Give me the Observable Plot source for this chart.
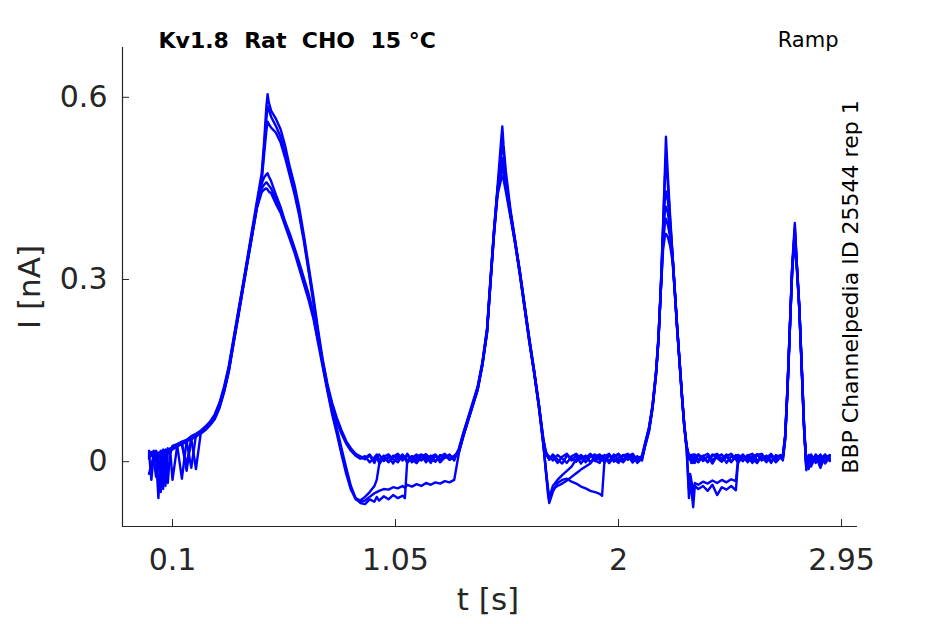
<!DOCTYPE html>
<html>
<head>
<meta charset="utf-8">
<script src="https://cdn.jsdelivr.net/npm/d3@7"></script>
<script src="https://cdn.jsdelivr.net/npm/@observablehq/plot@0.6"></script>
<style>
  html, body { margin: 0; padding: 0; background: #ffffff; }
  svg text { white-space: pre; }
</style>
</head>
<body>
<div id="chart"></div>
<script>
// ---- sampling times (s) ----
const time = [
  0.00,0.01,0.02,0.03,0.04,0.05,0.06,0.07,0.08,0.09,0.10,0.12,0.14,0.16,0.18,0.20,0.22,0.24,0.26,0.28,0.30,
  0.32,0.34,0.36,0.38,0.40,0.42,0.44,0.46,0.48,0.49,0.50,0.505,0.51,0.52,
  0.54,0.56,0.58,0.60,0.62,0.64,0.66,0.68,0.70,0.72,0.74,0.76,0.78,0.80,0.82,0.84,0.86,0.88,0.90,
  0.92,0.94,0.96,0.97,0.98,1.00,1.02,1.04,1.06,1.08,1.09,1.10,1.12,1.14,1.16,1.18,1.20,1.22,1.24,1.26,1.28,1.30,
  1.32,1.34,1.36,1.38,1.40,1.42,1.44,1.455,1.47,1.485,1.50,1.505,1.51,1.52,1.54,1.56,1.58,1.60,1.62,1.64,1.66,1.68,1.69,1.70,1.705,
  1.72,1.74,1.76,1.78,1.80,1.82,1.84,1.86,1.88,1.90,1.92,1.93,1.94,1.96,1.98,2.00,2.02,2.04,2.06,2.08,2.10,
  2.115,2.13,2.145,2.16,2.17,2.18,2.19,2.197,2.202,2.21,2.22,2.23,2.24,2.25,2.26,2.27,2.28,2.29,2.30,
  2.305,2.31,2.318,2.325,2.34,2.36,2.38,2.40,2.42,2.44,2.46,2.48,2.50,2.51,2.53,2.55,2.57,2.59,2.61,2.63,2.65,2.67,2.69,
  2.70,2.71,2.72,2.73,2.74,2.751,2.76,2.77,2.78,2.79,2.80,
  2.81,2.82,2.84,2.86,2.88,2.90
];

// ---- current traces (nA), one per sweep ----
const sweepA = [
  0.018,0.010,0.016,0.006,-0.060,0.014,0.020,0.012,0.022,0.016,0.026,0.029,0.033,0.036,0.042,0.046,0.051,0.058,0.066,0.078,0.097,
  0.124,0.158,0.203,0.248,0.292,0.338,0.384,0.430,0.475,0.525,0.585,0.605,0.592,0.578,
  0.565,0.548,0.520,0.485,0.455,0.418,0.372,0.322,0.272,0.218,0.168,0.128,0.097,0.072,0.052,0.034,0.022,0.013,0.009,
  0.004,0.010,-0.002,0.007,0.012,0.001,0.008,-0.003,0.011,0.005,0.009,-0.001,0.006,0.012,0.002,0.009,-0.002,0.010,0.004,0.011,0.003,0.008,
  0.020,0.047,0.072,0.097,0.122,0.162,0.218,0.302,0.383,0.455,0.530,0.552,0.522,0.478,0.414,0.364,0.313,0.258,0.203,0.152,0.097,0.037,0.017,0.008,0.005,
  0.009,-0.002,0.008,0.013,0.002,0.010,-0.003,0.007,0.012,0.001,0.009,0.004,0.011,-0.002,0.008,0.013,0.003,0.010,-0.001,0.007,0.008,
  0.032,0.055,0.092,0.148,0.203,0.288,0.392,0.472,0.535,0.472,0.402,0.342,0.282,0.222,0.167,0.112,0.062,0.027,0.008,
  0.003,0.011,-0.002,0.008,0.012,0.001,0.009,-0.003,0.010,0.005,0.012,0.000,0.008,0.011,0.002,0.009,-0.002,0.012,0.004,0.010,0.001,0.008,0.011,
  0.008,0.042,0.124,0.223,0.324,0.393,0.324,0.258,0.162,0.062,-0.006,
  0.010,-0.004,0.012,0.002,0.011,0.005
];
const sweepB = [
  0.008,0.015,0.004,0.012,0.010,0.018,-0.045,0.016,0.020,0.014,0.024,0.027,-0.028,0.034,0.039,0.043,0.048,0.055,0.063,0.074,0.093,
  0.119,0.153,0.198,0.243,0.288,0.333,0.378,0.424,0.468,0.515,0.565,0.585,0.580,0.568,
  0.553,0.535,0.508,0.476,0.446,0.410,0.366,0.316,0.266,0.212,0.162,0.122,0.093,0.068,0.048,0.031,0.019,0.011,0.006,
  0.009,-0.001,0.007,0.012,0.003,0.010,0.000,0.008,0.013,0.002,0.006,0.011,-0.001,0.008,0.012,0.003,0.010,0.001,0.009,0.013,0.004,0.010,
  0.016,0.043,0.068,0.093,0.118,0.158,0.212,0.298,0.378,0.448,0.508,0.530,0.508,0.468,0.408,0.358,0.308,0.253,0.198,0.148,0.093,0.033,0.014,0.006,0.009,
  0.002,0.011,0.005,-0.002,0.009,0.013,0.004,0.010,-0.001,0.008,0.012,0.002,0.009,0.013,0.000,0.007,0.011,0.003,0.010,-0.002,0.006,
  0.028,0.050,0.088,0.143,0.198,0.283,0.388,0.462,0.500,0.458,0.398,0.338,0.278,0.218,0.163,0.108,0.058,0.023,0.005,
  0.010,0.002,0.012,0.005,-0.001,0.009,0.013,0.003,0.008,0.012,-0.002,0.009,0.004,0.011,0.001,0.010,0.013,0.002,0.008,-0.001,0.011,0.005,0.009,
  0.004,0.038,0.119,0.219,0.318,0.385,0.319,0.253,0.157,0.058,-0.010,
  0.004,0.012,-0.002,0.009,0.000,0.010
];
const sweepC = [
  -0.020,-0.005,0.010,0.004,0.014,0.008,0.016,-0.040,0.018,0.022,0.020,0.025,0.030,-0.015,0.037,0.041,0.047,0.053,0.061,0.072,0.090,
  0.116,0.150,0.195,0.240,0.285,0.330,0.374,0.420,0.462,0.505,0.545,0.560,0.556,0.550,
  0.542,0.526,0.500,0.470,0.440,0.405,0.362,0.313,0.263,0.210,0.160,0.120,0.090,0.066,0.046,0.030,0.018,0.010,0.005,
  0.006,0.012,0.001,0.009,-0.002,0.008,0.012,0.004,-0.001,0.010,0.006,0.013,0.003,-0.002,0.009,0.012,0.005,0.000,0.011,0.006,0.012,0.002,
  0.022,0.049,0.074,0.099,0.124,0.164,0.220,0.304,0.384,0.450,0.490,0.500,0.490,0.460,0.410,0.361,0.311,0.256,0.200,0.150,0.095,0.036,0.016,0.010,0.003,
  0.012,0.004,-0.003,0.010,0.006,0.000,0.011,0.005,0.013,0.002,-0.002,0.010,0.006,0.001,0.012,0.004,-0.001,0.009,0.013,0.003,0.010,
  0.034,0.057,0.094,0.150,0.206,0.283,0.380,0.430,0.445,0.430,0.390,0.340,0.280,0.220,0.166,0.111,0.061,0.026,0.010,
  0.005,-0.002,0.009,0.012,0.003,0.010,-0.001,0.012,0.006,0.000,0.009,0.013,0.004,-0.002,0.010,0.006,0.001,0.011,0.013,0.003,0.009,-0.001,0.007,
  0.010,0.044,0.126,0.226,0.322,0.380,0.322,0.256,0.160,0.065,-0.004,
  -0.012,0.008,0.003,0.012,-0.003,0.008
];
const sweepD = [
  0.015,-0.030,0.012,0.018,0.008,-0.050,0.014,0.020,-0.035,0.018,0.025,0.028,0.031,0.034,-0.010,0.044,0.049,0.056,0.064,0.075,0.094,
  0.121,0.155,0.200,0.245,0.290,0.335,0.380,0.424,0.458,0.468,0.473,0.475,0.470,0.462,
  0.440,0.420,0.395,0.375,0.352,0.328,0.302,0.276,0.245,0.205,0.165,0.125,0.088,0.055,0.022,-0.010,-0.040,-0.060,-0.068,
  -0.070,-0.062,-0.066,-0.058,-0.064,-0.057,-0.062,-0.055,-0.060,-0.056,-0.060,0.002,0.009,-0.002,0.008,0.012,0.003,0.010,-0.001,0.007,0.011,0.005,
  0.019,0.046,0.071,0.096,0.121,0.161,0.216,0.300,0.380,0.448,0.482,0.490,0.482,0.455,0.410,0.362,0.312,0.257,0.202,0.151,0.096,0.030,-0.015,-0.055,-0.068,
  -0.050,-0.035,-0.030,-0.028,-0.033,-0.036,-0.041,-0.044,-0.048,-0.050,-0.053,-0.056,0.001,0.010,0.004,-0.002,0.011,0.006,0.012,0.001,0.007,
  0.030,0.053,0.090,0.146,0.200,0.282,0.370,0.410,0.420,0.410,0.380,0.338,0.280,0.220,0.165,0.110,0.060,0.022,-0.060,
  -0.030,-0.045,-0.075,-0.040,-0.045,-0.040,-0.048,-0.038,-0.055,-0.042,-0.046,-0.040,-0.047,0.004,0.010,-0.001,0.008,0.012,0.002,0.009,-0.002,0.011,0.006,
  0.006,0.040,0.121,0.220,0.320,0.375,0.320,0.255,0.160,0.060,-0.012,
  0.009,-0.001,0.011,-0.010,0.010,0.003
];
const sweepE = [
  0.010,0.016,0.006,-0.025,0.012,0.016,0.010,0.018,0.014,0.020,-0.030,0.026,0.030,-0.005,0.038,0.043,0.048,0.054,0.062,0.073,0.092,
  0.118,0.152,0.198,0.242,0.287,0.332,0.377,0.421,0.450,0.456,0.460,0.458,0.455,0.450,
  0.432,0.415,0.392,0.370,0.348,0.322,0.296,0.270,0.240,0.200,0.160,0.120,0.082,0.050,0.016,-0.015,-0.044,-0.062,-0.066,
  -0.064,-0.058,-0.052,-0.050,-0.048,-0.045,-0.046,-0.042,-0.044,-0.040,-0.043,-0.038,-0.041,-0.037,-0.040,-0.035,-0.038,-0.034,-0.036,-0.032,-0.034,-0.030,
  0.014,0.044,0.069,0.094,0.119,0.159,0.214,0.297,0.378,0.445,0.475,0.480,0.475,0.450,0.405,0.360,0.309,0.254,0.199,0.149,0.093,0.028,-0.012,-0.050,-0.064,
  -0.045,-0.040,-0.036,-0.031,-0.025,-0.019,-0.013,-0.008,-0.003,0.006,0.011,0.002,0.009,-0.002,0.008,0.012,0.003,0.010,-0.001,0.009,0.004,
  0.029,0.051,0.089,0.144,0.199,0.280,0.360,0.390,0.400,0.390,0.370,0.336,0.278,0.218,0.164,0.108,0.058,0.020,-0.045,
  -0.020,-0.030,-0.050,-0.035,-0.038,-0.033,-0.036,-0.031,-0.035,-0.030,-0.034,-0.029,-0.032,0.008,0.001,0.011,0.004,-0.002,0.010,0.005,0.012,0.000,0.009,
  0.002,0.036,0.117,0.217,0.316,0.370,0.316,0.251,0.155,0.055,-0.006,
  0.008,0.002,0.010,-0.002,0.006,0.011
];
const sweepF = [
  0.005,0.012,0.018,0.010,0.015,0.006,0.017,0.012,0.020,0.016,0.022,0.026,0.029,0.033,0.038,-0.012,0.046,0.052,0.060,0.070,0.088,
  0.115,0.148,0.194,0.238,0.284,0.329,0.374,0.418,0.444,0.448,0.450,0.448,0.445,0.442,
  0.425,0.410,0.388,0.366,0.344,0.318,0.292,0.266,0.236,0.196,0.156,0.116,0.078,0.046,0.012,-0.020,-0.046,-0.060,-0.064,
  -0.058,-0.050,-0.040,-0.030,-0.005,0.008,-0.001,0.010,0.004,0.012,0.006,-0.002,0.009,0.003,0.011,-0.001,0.008,0.012,0.002,0.010,0.005,0.009,
  0.017,0.045,0.070,0.095,0.120,0.160,0.213,0.296,0.376,0.440,0.465,0.470,0.465,0.445,0.402,0.358,0.307,0.252,0.197,0.147,0.092,0.026,-0.010,-0.045,-0.060,
  -0.040,-0.030,-0.022,-0.015,-0.008,0.004,0.010,-0.001,0.008,0.012,0.003,0.009,-0.002,0.011,0.005,0.000,0.010,0.013,0.004,0.008,0.002,
  0.031,0.054,0.091,0.147,0.201,0.280,0.350,0.370,0.375,0.370,0.355,0.330,0.276,0.216,0.162,0.108,0.059,0.024,0.004,
  0.011,0.003,0.009,-0.002,0.012,0.006,0.000,0.010,0.013,0.003,0.008,-0.001,0.011,0.005,0.012,0.002,0.009,-0.002,0.010,0.006,0.013,0.001,0.008,
  0.009,0.043,0.122,0.221,0.318,0.365,0.317,0.252,0.158,0.063,-0.014,
  0.011,-0.008,0.009,0.004,0.012,0.001
];

// ---- axes ----
const xDomain = [-0.113, 3.018];
const yDomain = [-0.1067, 0.682];
const xTicks = [0.1, 1.05, 2, 2.95];
const xTickLabels = ["0.1", "1.05", "2", "2.95"];
const yTicks = [0, 0.3, 0.6];
const yTickLabels = ["0", "0.3", "0.6"];

const titleText = "Kv1.8  Rat  CHO  15 °C";
const protocolText = "Ramp";
const sideText = "BBP Channelpedia ID 25544 rep 1";
const xLabel = "t [s]";
const yLabel = "I [nA]";

const sweeps = [sweepA, sweepB, sweepC, sweepD, sweepE, sweepF];
const rows = [];
sweeps.forEach((s, k) => {
  const n = Math.min(s.length, time.length);
  for (let i = 0; i < n; i++) rows.push({sweep: k, t: time[i], I: s[i]});
});

const axisColor = "#262626";

const chart = Plot.plot({
  width: 945,
  height: 624,
  marginLeft: 122,
  marginRight: 88,
  marginTop: 47,
  marginBottom: 98,
  style: {fontFamily: "'DejaVu Sans', sans-serif", background: "#ffffff", color: axisColor},
  x: {domain: xDomain, label: null},
  y: {domain: yDomain, label: null},
  marks: [
    Plot.line(rows, {x: "t", y: "I", z: "sweep", stroke: "#0000ff", strokeWidth: 2.4, strokeLinejoin: "round"}),
    Plot.ruleX([xDomain[0]], {stroke: axisColor, strokeWidth: 1.2}),
    Plot.ruleY([yDomain[0]], {stroke: axisColor, strokeWidth: 1.2}),
    Plot.axisX(xTicks, {
      tickSize: -7, tickPadding: 29, fontSize: 30, stroke: axisColor, fill: axisColor,
      tickFormat: (d) => xTickLabels[xTicks.indexOf(d)], label: null
    }),
    Plot.axisY(yTicks, {
      tickSize: -7, tickPadding: 22, fontSize: 30, stroke: axisColor, fill: axisColor,
      tickFormat: (d) => yTickLabels[yTicks.indexOf(d)], label: null
    }),
    Plot.text([titleText], {frameAnchor: "top-left", dx: 36, dy: -7, textAnchor: "start", lineAnchor: "middle",
      fontWeight: "bold", fontSize: 22, fill: "#000000"}),
    Plot.text([protocolText], {frameAnchor: "top-right", dx: -19, dy: -7, textAnchor: "end", lineAnchor: "middle",
      fontSize: 21, fill: "#000000"}),
    Plot.text([sideText], {frameAnchor: "right", dx: -7, dy: 0, rotate: -90, textAnchor: "middle", lineAnchor: "middle",
      fontSize: 22, fill: "#000000"}),
    Plot.text([xLabel], {frameAnchor: "bottom", dx: -2, dy: 74, textAnchor: "middle", lineAnchor: "middle",
      fontSize: 31, fill: axisColor}),
    Plot.text([yLabel], {frameAnchor: "left", dx: -92, rotate: -90, textAnchor: "middle", lineAnchor: "middle",
      fontSize: 31, fill: axisColor})
  ]
});
document.getElementById("chart").appendChild(chart);
</script>
</body>
</html>
